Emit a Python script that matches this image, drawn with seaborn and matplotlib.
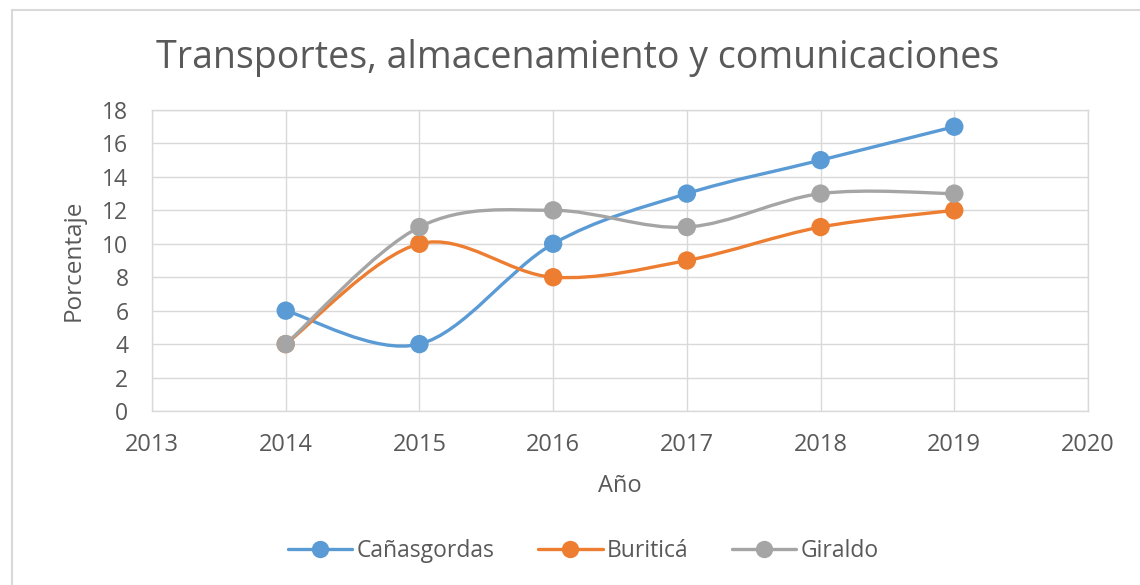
import numpy as np
import pandas as pd
import matplotlib
matplotlib.use("Agg")
import matplotlib.pyplot as plt
import seaborn as sns
from matplotlib.path import Path
from matplotlib.patches import PathPatch, Rectangle
from matplotlib.lines import Line2D

# ============================
# Datos
# ============================
years = [2014, 2015, 2016, 2017, 2018, 2019]
canasgordas = [6, 4, 10, 13, 15, 17]
buritica = [4, 10, 8, 9, 11, 12]
giraldo = [4, 11, 12, 11, 13, 13]

series_names = ["Cañasgordas", "Buriticá", "Giraldo"]
colors = ["#5B9BD5", "#ED7D31", "#A5A5A5"]
x_ticks = [2013, 2014, 2015, 2016, 2017, 2018, 2019, 2020]
y_ticks = [0, 2, 4, 6, 8, 10, 12, 14, 16, 18]

title = "Transportes, almacenamiento y comunicaciones"
text_color = "#595959"
grid_color = "#D9D9D9"

df = pd.DataFrame({
    "year": years * 3,
    "value": canasgordas + buritica + giraldo,
    "serie": [n for n in series_names for _ in years],
})

# ============================
# Estilo
# ============================
sns.set_style("white")
plt.rcParams["font.family"] = ["Open Sans", "DejaVu Sans"]


def smooth_path(xs, ys):
    """Curva Bezier tipo Excel (linea suavizada) que pasa por los puntos"""
    pts = np.column_stack([xs, ys]).astype(float)
    n = len(pts)
    verts = [pts[0]]
    codes = [Path.MOVETO]
    for i in range(n - 1):
        p_prev = pts[i - 1] if i > 0 else pts[i]
        p_next2 = pts[i + 2] if i + 2 < n else pts[i + 1]
        c1 = pts[i] + (pts[i + 1] - p_prev) / 6
        c2 = pts[i + 1] - (p_next2 - pts[i]) / 6
        verts += [c1, c2, pts[i + 1]]
        codes += [Path.CURVE4] * 3
    return Path(verts, codes)


fig = plt.figure(figsize=(11.4, 5.85), dpi=100)
ax = fig.add_axes([152 / 1140, 1 - 411 / 585, 936 / 1140, 301 / 585])

# Lineas suavizadas
for name, color in zip(series_names, colors):
    d = df[df["serie"] == name]
    patch = PathPatch(smooth_path(d["year"], d["value"]), facecolor="none",
                      edgecolor=color, linewidth=2.4, zorder=3,
                      capstyle="round", joinstyle="round")
    ax.add_patch(patch)

# Marcadores
sns.scatterplot(data=df, x="year", y="value", hue="serie", palette=colors,
                s=175, edgecolor="none", legend=False, zorder=4, ax=ax)

ax.set_xlim(2013, 2020)
ax.set_ylim(0, 18)
ax.set_xticks(x_ticks)
ax.set_yticks(y_ticks)
ax.grid(True, color=grid_color, linewidth=1)
ax.set_axisbelow(True)
for s in ax.spines.values():
    s.set_color(grid_color)
    s.set_linewidth(1)
ax.tick_params(axis="x", length=0, labelsize=17, colors=text_color, pad=16)
ax.tick_params(axis="y", length=0, labelsize=16.5, colors=text_color, pad=17)

ax.set_xlabel("Año", fontsize=17, color=text_color, labelpad=12)
ax.set_ylabel("Porcentaje", fontsize=17.5, color=text_color, labelpad=12)

fig.text(0.507, 1 - 58 / 585, title, ha="center", va="center",
         fontsize=27, color=text_color)

# Leyenda
handles = [Line2D([0], [0], color=c, linewidth=2.4, marker="o", markersize=12.5,
                  markeredgewidth=0) for c in colors]
fig.legend(handles, series_names, loc="center", bbox_to_anchor=(0.512, 1 - 551 / 585),
           ncol=3, frameon=False, fontsize=16.5, labelcolor=text_color,
           handlelength=2.8, handletextpad=0.2, columnspacing=1.9)

# Borde exterior del grafico
fig.patches.append(Rectangle((12 / 1140, -0.05), 1.2, 1 - 10 / 585 + 0.05,
                             transform=fig.transFigure, facecolor="none",
                             edgecolor=grid_color, linewidth=1.5))

fig.savefig("out.png", dpi=100)
